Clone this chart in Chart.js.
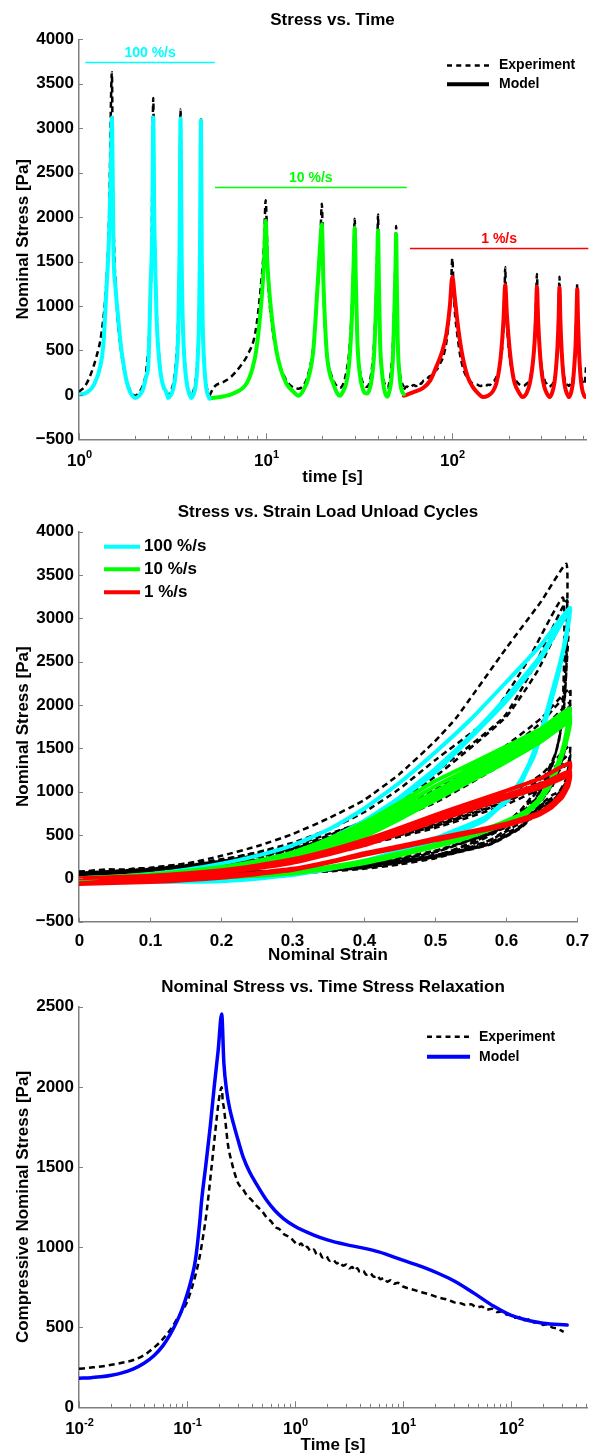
<!DOCTYPE html>
<html>
<head>
<meta charset="utf-8">
<script src="https://cdn.jsdelivr.net/npm/chart.js@4.4.1/dist/chart.umd.min.js"></script>
<style>
  html, body { margin: 0; padding: 0; background: #fff; }
  body { width: 589px; height: 1454px; position: relative; overflow: hidden; }
  canvas { position: absolute; left: 0; }
</style>
</head>
<body>
<canvas id="timeChart" width="589" height="500" style="top:0px"></canvas>
<canvas id="loopChart" width="589" height="475" style="top:500px"></canvas>
<canvas id="relaxChart" width="589" height="479" style="top:975px"></canvas>
<script>
/* ---------- cyclic test, stress against time  [t (s), stress (Pa)] ---------- */
var fastModelTime = [
  [1.0,0],[1.1,25],[1.2,110],[1.3,320],[1.35,560],[1.4,1150],[1.45,1800],[1.48,2500],[1.5,3120],
  [1.52,2200],[1.53,1650],[1.57,1200],[1.62,880],[1.67,580],[1.73,350],[1.8,150],[1.87,40],[1.93,-10],[2.0,-34],
  [2.1,-10],[2.2,60],[2.3,220],[2.35,330],[2.42,1250],[2.47,1900],[2.5,3120],
  [2.53,2000],[2.55,1630],[2.6,900],[2.71,315],[2.8,130],[2.95,20],[3.0,-34],
  [3.1,-5],[3.2,70],[3.3,250],[3.4,700],[3.45,1500],[3.5,3110],[3.55,1500],[3.6,800],[3.7,300],[3.8,100],[3.9,10],[4.0,-34],
  [4.1,0],[4.2,80],[4.3,300],[4.4,900],[4.45,1700],[4.5,3090],[4.55,1500],[4.6,800],[4.7,300],[4.8,80],[4.9,0],[5.0,-40]
];
var mediumModelTime = [
  [5,-40],[6,-15],[6.7,16],[7.9,128],[8.5,300],[8.9,500],[9.5,1066],[9.8,1500],[10,1960],
  [10.2,1500],[10.56,1066],[11.4,503],[12,300],[12.9,128],[14,40],[15,-10],
  [16,60],[17,200],[18,500],[19,1250],[19.6,1700],[20,1920],[20.4,1250],[21.2,500],[22,250],[23,128],[24,30],[25,-10],
  [26,40],[27,130],[28,350],[29,900],[29.6,1500],[30,1880],[30.4,1300],[31,600],[32,220],[33,80],[34,20],[35,15],
  [36,60],[37,180],[38,420],[39,1000],[39.6,1500],[40,1850],[40.4,1300],[41,600],[42,250],[43,80],[44,0],[45,-20],
  [46,40],[47,150],[48,400],[49,1000],[49.6,1450],[50,1810],[50.4,1300],[51,600],[52,250],[53,90],[54,30],[55,8]
];
var slowModelTime = [
  [55,-10],[62,30],[70,80],[76,160],[82,315],[88,480],[93,690],[97,1000],[100,1330],
  [103,1100],[105.7,880],[110,600],[114.5,390],[121,200],[128.6,90],[137,20],[146,-25],
  [155,-10],[165,40],[172,128],[178,280],[183,500],[188,850],[192,1235],[196,900],[203,500],[210,250],[216,128],[227,30],[238,-25],
  [250,20],[260,130],[268,300],[275,550],[280,850],[284,1216],[288,850],[294,500],[302,230],[312,80],[322,10],[332,-25],
  [342,20],[352,130],[360,320],[366,550],[371,850],[375,1209],[379,850],[385,500],[393,230],[402,80],[412,10],[422,-25],
  [432,20],[442,130],[450,320],[457,550],[462,850],[467,1187],[471,850],[477,500],[485,230],[494,80],[504,10],[514,-25],[520,-10]
];
var fastExptTime = [
  [1.0,30],[1.1,130],[1.24,430],[1.32,700],[1.4,1250],[1.45,2000],[1.5,3630],
  [1.52,2300],[1.54,1700],[1.6,950],[1.7,420],[1.8,160],[1.9,30],[2.0,-10],
  [2.1,30],[2.2,110],[2.3,300],[2.4,900],[2.45,1700],[2.5,3340],[2.53,2100],[2.56,1500],[2.62,800],[2.7,380],[2.8,130],[2.9,30],[3.0,0],
  [3.1,40],[3.2,130],[3.3,350],[3.4,850],[3.45,1600],[3.5,3210],[3.55,1500],[3.6,800],[3.7,330],[3.8,120],[3.9,30],[4.0,-10],
  [4.1,40],[4.2,140],[4.3,380],[4.4,950],[4.45,1800],[4.5,3100],[4.55,1500],[4.6,800],[4.7,330],[4.8,120],[4.9,40],[5.0,0]
];
var mediumExptTime = [
  [5,-10],[5.3,90],[6,150],[6.5,200],[7.3,320],[8,450],[8.8,700],[9.4,1200],[9.8,1700],[10,2190],
  [10.3,1300],[10.8,800],[11.5,450],[12.5,220],[13.5,110],[15,70],
  [16,110],[17,250],[18,550],[19,1200],[19.6,1700],[20,2150],[20.4,1200],[21.2,500],[22.5,220],[24,100],[25,80],
  [26,120],[27,250],[28,480],[29,1000],[29.6,1550],[30,1980],[30.4,1200],[31.2,500],[32.5,200],[34,100],[35,90],
  [36,140],[37,280],[38,550],[39,1100],[39.6,1600],[40,2030],[40.4,1200],[41.2,500],[42.5,200],[44,100],[45,80],
  [46,140],[47,280],[48,550],[49,1100],[49.6,1550],[50,1900],[50.4,1200],[51.2,500],[52.5,220],[54,120],[55,90]
];
var slowExptTime = [
  [55,60],[57,95],[59,80],[62,110],[64,100],[66,135],[68,125],[70,160],[73,175],[75,205],[78,225],[80,265],[83,290],[85,335],
  [89,420],[93,600],[96,850],[98,1100],[100,1536],
  [101.5,1200],[103,950],[106,700],[110,450],[115,280],[121,180],[125,150],[128,130],[132,120],[136,115],[141,100],[146,105],
  [150,95],[155,115],[159,110],[163,145],[168,160],[172,200],[180,350],[186,600],[190,1000],[192,1435],
  [194,1000],[199,600],[206,330],[214,200],[219,160],[224,135],[231,110],[238,100],
  [244,105],[250,125],[255,140],[260,180],[268,330],[275,600],[280,950],[284,1359],
  [287,950],[293,560],[300,320],[305,230],[310,185],[315,140],[320,125],[326,100],[332,90],
  [337,105],[342,110],[347,140],[352,170],[360,320],[366,580],[371,950],[375,1329],
  [378,950],[384,560],[391,320],[395,230],[400,175],[405,140],[410,120],[416,110],[422,100],
  [427,115],[432,120],[437,150],[442,180],[450,320],[457,580],[462,950],[467,1247],
  [470,950],[476,560],[483,320],[488,220],[492,175],[497,140],[502,115],[506,120],[510,135],[516,200],[520,310]
];
// strain-rate bands over the three blocks
var rateLabels = ['100 %/s', '10 %/s', '1 %/s'];
var rateFrom = [1.08, 5.35, 59.3];
var rateTo = [5.35, 57, 535];
var rateLevel = [3750, 2340, 1650];

/* ---------- load / unload loops  [strain, stress (Pa)] ---------- */
var fastModelLoop = [
  [0,0],[0.05,20],[0.1,50],[0.15,100],[0.2,170],[0.25,260],[0.3,380],[0.35,560],[0.4,800],[0.45,1100],[0.5,1450],[0.55,1830],[0.6,2260],[0.65,2700],[0.69,3120],
  [0.685,2800],[0.675,2450],[0.665,2150],[0.655,1850],[0.64,1450],[0.62,1120],[0.6,900],[0.57,700],[0.53,560],[0.5,460],[0.45,320],[0.4,200],[0.35,110],[0.3,50],[0.25,0],[0.2,-25],[0.1,-40],[0,-34],
  [0.05,-20],[0.1,0],[0.15,40],[0.2,100],[0.25,180],[0.3,290],[0.35,450],[0.4,660],[0.45,930],[0.5,1260],[0.55,1640],[0.6,2080],[0.65,2580],[0.69,3120],
  [0.685,2780],[0.675,2430],[0.665,2120],[0.655,1820],[0.64,1420],[0.62,1100],[0.6,880],[0.57,690],[0.53,550],[0.5,450],[0.45,310],[0.4,195],[0.35,105],[0.3,45],[0.25,-5],[0.2,-30],[0.1,-40],[0,-34],
  [0.1,-5],[0.2,90],[0.3,275],[0.4,640],[0.5,1230],[0.6,2050],[0.65,2560],[0.69,3110],
  [0.675,2420],[0.655,1810],[0.62,1090],[0.57,680],[0.5,440],[0.4,190],[0.3,40],[0.2,-30],[0.1,-40],[0,-34],
  [0.1,-5],[0.2,85],[0.3,270],[0.4,630],[0.5,1220],[0.6,2040],[0.65,2550],[0.69,3090],
  [0.675,2400],[0.655,1800],[0.62,1080],[0.57,670],[0.5,430],[0.4,185],[0.3,38],[0.2,-32],[0.1,-40],[0,-40]
];
var mediumModelLoop = [
  [0,0],[0.1,45],[0.2,130],[0.25,200],[0.3,300],[0.35,450],[0.4,640],[0.45,870],[0.5,1120],[0.55,1320],[0.6,1520],[0.65,1730],[0.69,1960],
  [0.685,1680],[0.678,1440],[0.67,1270],[0.66,1090],[0.645,900],[0.625,760],[0.6,660],[0.578,590],[0.55,510],[0.5,390],[0.45,290],[0.4,200],[0.35,130],[0.3,80],[0.2,25],[0.1,-5],[0,-20],
  [0.1,25],[0.2,110],[0.25,180],[0.3,280],[0.35,420],[0.4,600],[0.45,820],[0.5,1060],[0.55,1270],[0.6,1480],[0.65,1700],[0.69,1920],
  [0.685,1650],[0.678,1420],[0.67,1250],[0.66,1070],[0.645,890],[0.625,750],[0.6,650],[0.578,580],[0.55,500],[0.5,380],[0.45,280],[0.4,190],[0.35,120],[0.3,70],[0.2,20],[0.1,-10],[0,-20],
  [0.1,15],[0.2,95],[0.3,260],[0.35,390],[0.4,560],[0.45,770],[0.5,1000],[0.55,1220],[0.6,1430],[0.65,1660],[0.69,1880],
  [0.685,1620],[0.67,1230],[0.66,1060],[0.645,880],[0.625,740],[0.6,640],[0.55,490],[0.5,375],[0.4,185],[0.3,65],[0.2,15],[0.1,-12],[0,-22],
  [0.1,10],[0.2,85],[0.3,240],[0.35,360],[0.4,520],[0.45,720],[0.5,950],[0.55,1170],[0.6,1390],[0.65,1620],[0.69,1850],
  [0.685,1600],[0.67,1220],[0.66,1050],[0.645,870],[0.625,735],[0.6,635],[0.55,485],[0.5,370],[0.4,180],[0.3,60],[0.2,12],[0.1,-15],[0,-25],
  [0.1,5],[0.2,75],[0.3,220],[0.35,330],[0.4,480],[0.45,680],[0.5,900],[0.55,1120],[0.6,1340],[0.65,1580],[0.69,1810],
  [0.685,1580],[0.67,1210],[0.66,1040],[0.645,865],[0.625,730],[0.6,630],[0.55,480],[0.5,365],[0.4,175],[0.3,55],[0.2,10],[0.1,-18],[0,-28]
];
var slowModelLoop = [
  [0,0],[0.1,30],[0.2,95],[0.25,150],[0.3,220],[0.35,320],[0.4,440],[0.45,580],[0.5,730],[0.55,870],[0.6,1010],[0.65,1160],[0.69,1330],
  [0.688,1150],[0.68,1000],[0.665,860],[0.645,750],[0.62,680],[0.6,630],[0.55,540],[0.5,460],[0.45,370],[0.4,290],[0.35,190],[0.3,110],[0.2,20],[0.1,-30],[0,-55],
  [0.1,0],[0.2,70],[0.3,195],[0.35,290],[0.4,405],[0.45,540],[0.5,690],[0.55,825],[0.6,960],[0.65,1090],[0.69,1235],
  [0.688,1100],[0.68,970],[0.665,840],[0.645,740],[0.62,670],[0.6,620],[0.55,530],[0.5,450],[0.45,360],[0.4,280],[0.35,185],[0.3,105],[0.2,15],[0.1,-35],[0,-60],
  [0.1,-5],[0.2,65],[0.3,190],[0.4,395],[0.5,675],[0.55,810],[0.6,945],[0.65,1075],[0.69,1216],
  [0.688,1090],[0.68,960],[0.665,835],[0.645,735],[0.6,615],[0.5,445],[0.4,275],[0.3,100],[0.2,12],[0.1,-38],[0,-62],
  [0.1,-8],[0.2,62],[0.3,185],[0.4,390],[0.5,668],[0.6,938],[0.65,1068],[0.69,1209],
  [0.688,1085],[0.68,955],[0.665,830],[0.645,732],[0.6,612],[0.5,442],[0.4,272],[0.3,98],[0.2,10],[0.1,-40],[0,-63],
  [0.1,-10],[0.2,58],[0.3,180],[0.4,380],[0.5,655],[0.6,925],[0.65,1050],[0.69,1187],
  [0.688,1070],[0.68,945],[0.665,822],[0.645,728],[0.6,608],[0.5,438],[0.4,268],[0.3,95],[0.2,8],[0.1,-42],[0,-65]
];
var fastExptLoop = [
  [0,60],[0.03,95],[0.05,80],[0.08,115],[0.1,120],[0.15,170],[0.2,260],[0.25,370],[0.3,510],[0.35,690],[0.4,900],[0.45,1200],[0.5,1580],[0.53,1850],[0.6,2650],[0.65,3200],[0.685,3630],
  [0.686,3000],[0.685,2400],[0.682,2000],[0.676,1650],[0.665,1300],[0.645,950],[0.62,680],[0.58,450],[0.54,320],[0.5,230],[0.45,160],[0.4,110],[0.35,80],[0.3,60],[0.2,40],[0.1,40],[0,40],
  [0.05,60],[0.1,90],[0.15,140],[0.2,210],[0.25,300],[0.3,410],[0.35,560],[0.4,760],[0.45,1030],[0.5,1360],[0.578,1860],[0.63,2500],[0.68,3240],
  [0.682,2600],[0.68,2000],[0.675,1600],[0.662,1250],[0.64,900],[0.6,600],[0.55,380],[0.5,250],[0.4,120],[0.3,70],[0.2,50],[0.1,45],[0,40],
  [0.1,80],[0.2,190],[0.3,350],[0.4,660],[0.5,1220],[0.597,1860],[0.64,2450],[0.686,3210],
  [0.684,2500],[0.68,1900],[0.672,1500],[0.655,1150],[0.63,850],[0.6,620],[0.55,400],[0.5,260],[0.4,130],[0.3,70],[0.2,50],[0.1,45],[0,40],
  [0.1,75],[0.2,180],[0.3,330],[0.4,630],[0.5,1170],[0.6,1860],[0.645,2400],[0.688,3100],
  [0.685,2400],[0.68,1850],[0.67,1450],[0.65,1100],[0.62,780],[0.58,520],[0.5,250],[0.4,120],[0.3,70],[0.2,50],[0.1,40],[0,40]
];
var mediumExptLoop = [
  [0,70],[0.04,105],[0.07,90],[0.1,120],[0.2,220],[0.3,380],[0.4,650],[0.45,820],[0.5,1020],[0.55,1250],[0.6,1530],[0.65,1850],[0.69,2190],
  [0.688,1800],[0.682,1450],[0.67,1150],[0.65,900],[0.62,700],[0.58,520],[0.5,320],[0.4,160],[0.3,90],[0.2,60],[0.1,50],[0,60],
  [0.1,110],[0.2,200],[0.3,350],[0.4,600],[0.5,960],[0.6,1470],[0.65,1800],[0.69,2150],
  [0.687,1750],[0.68,1400],[0.665,1100],[0.64,850],[0.6,620],[0.55,450],[0.5,310],[0.4,150],[0.3,85],[0.2,55],[0.1,50],[0,60],
  [0.1,100],[0.2,190],[0.3,330],[0.4,570],[0.5,900],[0.6,1380],[0.65,1680],[0.69,1980],
  [0.686,1650],[0.678,1350],[0.665,1080],[0.64,830],[0.6,600],[0.5,300],[0.4,150],[0.3,80],[0.2,55],[0.1,50],[0,55],
  [0.1,100],[0.2,190],[0.3,340],[0.4,580],[0.5,920],[0.6,1400],[0.65,1710],[0.69,2030],
  [0.686,1680],[0.678,1370],[0.665,1090],[0.64,840],[0.6,610],[0.5,305],[0.4,150],[0.3,80],[0.2,55],[0.1,50],[0,55],
  [0.1,95],[0.2,180],[0.3,320],[0.4,550],[0.5,870],[0.6,1340],[0.65,1620],[0.69,1900],
  [0.686,1600],[0.678,1320],[0.665,1060],[0.64,820],[0.6,590],[0.5,300],[0.4,145],[0.3,80],[0.2,55],[0.1,50],[0,55]
];
var slowExptLoop = [
  [0,80],[0.05,100],[0.1,110],[0.2,170],[0.3,280],[0.4,440],[0.5,660],[0.6,960],[0.65,1200],[0.69,1536],
  [0.688,1300],[0.685,1150],[0.675,1000],[0.665,960],[0.653,880],[0.64,790],[0.63,700],[0.62,640],[0.6,540],[0.578,440],[0.56,390],[0.54,330],[0.5,270],[0.45,200],[0.4,155],[0.367,130],[0.3,95],[0.2,70],[0.1,55],[0,60],
  [0.1,105],[0.2,160],[0.3,265],[0.4,420],[0.5,630],[0.6,920],[0.65,1150],[0.69,1435],
  [0.688,1250],[0.684,1100],[0.672,960],[0.66,905],[0.65,850],[0.635,730],[0.62,600],[0.6,520],[0.578,410],[0.55,350],[0.5,255],[0.4,145],[0.3,92],[0.2,68],[0.1,55],[0,60],
  [0.1,100],[0.2,155],[0.3,255],[0.4,405],[0.5,610],[0.6,890],[0.65,1110],[0.69,1359],
  [0.688,1200],[0.683,1060],[0.67,930],[0.65,830],[0.62,590],[0.578,400],[0.5,250],[0.4,140],[0.3,90],[0.2,66],[0.1,55],[0,60],
  [0.1,100],[0.2,150],[0.3,250],[0.4,400],[0.5,600],[0.6,880],[0.65,1090],[0.69,1329],
  [0.688,1180],[0.683,1040],[0.67,920],[0.65,820],[0.62,585],[0.578,395],[0.5,248],[0.4,140],[0.3,88],[0.2,65],[0.1,55],[0,60],
  [0.1,95],[0.2,145],[0.3,240],[0.4,385],[0.5,580],[0.6,850],[0.65,1040],[0.69,1247],
  [0.688,1120],[0.683,1000],[0.67,900],[0.65,800],[0.62,575],[0.578,390],[0.5,245],[0.4,138],[0.3,86],[0.2,64],[0.1,55],[0,60]
];

/* ---------- stress relaxation  [t (s), stress (Pa)] ---------- */
var relaxExpt = [
  [0.01,240],[0.013,248],[0.016,255],[0.02,265],[0.025,278],[0.032,295],[0.04,325],[0.045,350],[0.05,375],[0.057,410],
  [0.065,455],[0.073,500],[0.08,545],[0.09,600],[0.1,655],[0.11,735],[0.12,825],[0.13,925],[0.14,1050],[0.153,1230],
  [0.165,1430],[0.178,1640],[0.19,1820],[0.2,1940],[0.21,1997],[0.215,1910],[0.22,1870],[0.227,1790],[0.24,1640],
  [0.26,1530],[0.28,1450],[0.3,1395],[0.33,1362],[0.36,1322],[0.4,1292],[0.45,1252],[0.5,1222],[0.55,1183],[0.6,1162],
  [0.66,1124],[0.72,1112],[0.8,1078],[0.9,1062],[1.0,1030],[1.08,1012],[1.15,1022],[1.22,994],[1.3,1002],[1.4,974],
  [1.5,984],[1.6,954],[1.7,963],[1.8,935],[1.95,944],[2.1,914],[2.27,920],[2.45,898],[2.6,906],[2.8,884],[3.0,891],
  [3.2,867],[3.4,876],[3.6,854],[3.8,868],[4.0,844],[4.3,851],[4.6,827],[5.0,837],[5.4,814],[5.8,823],[6.2,799],
  [6.7,807],[7.2,784],[7.7,793],[8.3,771],[9.0,777],[10,754],[12,738],[15,718],[18,703],[22,683],[26,672],[30,655],
  [34,650],[38,639],[43,643],[48,624],[54,629],[60,609],[67,615],[75,594],[83,599],[92,579],[100,575],[110,559],
  [120,563],[135,544],[150,549],[165,529],[180,533],[200,514],[220,519],[245,497],[270,492],[290,481],[310,471]
];
var relaxModel = [
  [0.01,181],[0.013,185],[0.016,190],[0.02,200],[0.025,215],[0.032,240],[0.04,275],[0.05,325],[0.06,385],[0.07,455],
  [0.08,530],[0.09,610],[0.1,700],[0.11,800],[0.12,920],[0.132,1168],[0.137,1293],[0.149,1500],[0.165,1760],[0.179,2000],
  [0.195,2230],[0.21,2455],[0.22,2150],[0.234,1970],[0.25,1860],[0.27,1770],[0.3,1660],[0.333,1560],[0.38,1470],
  [0.44,1394],[0.55,1290],[0.65,1230],[0.785,1178],[1,1130],[1.5,1075],[2,1045],[3,1015],[4,998],[6,970],[10,918],
  [15,878],[22,832],[30,788],[46,711],[70,630],[100,575],[150,540],[200,525],[334,513]
];

/* --------------- shared styling --------------- */
var FONT = "'Liberation Sans', Arial, Helvetica, sans-serif";
var AXIS_GREY = '#7f7f7f';
var CYAN = '#00ffff', GREEN = '#00ff00', RED = '#ff0000', BLUE = '#0000ff';
var EXPT_DASH = [6, 4];

Chart.defaults.font.family = FONT;
Chart.defaults.color = '#000';

function pts(arr) {
  return arr.map(function (p) { return { x: p[0], y: p[1] }; });
}

function series(label, data, color, width, dash, order, mode) {
  return {
    label: label,
    data: pts(data),
    showLine: true,
    borderColor: color,
    backgroundColor: color,
    borderWidth: width,
    borderDash: dash || [],
    borderCapStyle: dash ? 'butt' : 'round',
    borderJoinStyle: 'round',
    pointRadius: 0,
    pointHoverRadius: 0,
    cubicInterpolationMode: mode === 'monotone' ? 'monotone' : 'default',
    tension: mode === 'monotone' ? 0 : (mode || 0),
    order: order
  };
}

function yAxis(min, max, title) {
  return {
    type: 'linear', min: min, max: max,
    ticks: {
      stepSize: 500, padding: 5, color: '#000',
      font: { size: 17, weight: 'bold' },
      callback: function (v) { return v < 0 ? '\u2212' + Math.abs(v) : String(v); }
    },
    grid: { display: false, drawTicks: false },
    border: { color: AXIS_GREY, width: 1.5 },
    title: {
      display: true, text: title, color: '#000',
      font: { size: 17, weight: 'bold', lineHeight: 1 },
      padding: { top: 14.5, bottom: 0 }
    },
    afterFit: function (s) { s.width = 79; }
  };
}

function xAxis(type, min, max, title, height, titlePad, step) {
  var ax = {
    type: type, min: min, max: max,
    ticks: { display: false },
    grid: { display: false, drawTicks: false },
    border: { color: AXIS_GREY, width: 1.5 },
    title: {
      display: true, text: title, color: '#000',
      font: { size: 17, weight: 'bold', lineHeight: 1 },
      padding: { top: 0, bottom: titlePad }
    },
    afterFit: function (s) { s.height = height; s.paddingLeft = 0; s.paddingRight = 0; }
  };
  if (step) ax.ticks.stepSize = step;
  return ax;
}

/* title, inward ticks, x labels, legend and rate bands drawn on top of each chart */
function decor(cfg) {
  return {
    id: 'decor',
    afterDraw: function (chart) {
      var ctx = chart.ctx, a = chart.chartArea, xs = chart.scales.x, ys = chart.scales.y;
      ctx.save();

      ctx.fillStyle = '#000';
      ctx.font = 'bold 17px ' + FONT;
      ctx.textAlign = 'center';
      ctx.textBaseline = 'middle';
      ctx.fillText(cfg.title, (a.left + a.right) / 2, cfg.titleY);

      // tick marks point into the plot
      ctx.strokeStyle = AXIS_GREY;
      ctx.lineWidth = 1;
      ctx.beginPath();
      ys.ticks.forEach(function (t) {
        var py = Math.round(ys.getPixelForValue(t.value)) + 0.5;
        ctx.moveTo(a.left, py); ctx.lineTo(a.left + 4, py);
      });
      var majors = [];
      if (xs.type === 'logarithmic') {
        var e0 = Math.floor(Math.log10(xs.min)), e1 = Math.ceil(Math.log10(xs.max));
        for (var e = e0; e <= e1; e++) {
          for (var k = 1; k < 10; k++) {
            var v = k * Math.pow(10, e);
            if (v < xs.min * 0.999 || v > xs.max) continue;
            var px = Math.round(xs.getPixelForValue(v)) + 0.5;
            ctx.moveTo(px, a.bottom); ctx.lineTo(px, a.bottom - (k === 1 ? 6 : 3.5));
            if (k === 1) majors.push([px, e]);
          }
        }
      } else {
        xs.ticks.forEach(function (t) {
          var px = Math.round(xs.getPixelForValue(t.value)) + 0.5;
          ctx.moveTo(px, a.bottom); ctx.lineTo(px, a.bottom - 4);
          majors.push([px, t.value]);
        });
      }
      ctx.stroke();

      // x tick labels
      ctx.fillStyle = '#000';
      ctx.textBaseline = 'alphabetic';
      majors.forEach(function (m) {
        if (xs.type === 'logarithmic') {
          var ex = m[1] < 0 ? '-' + (-m[1]) : String(m[1]);
          ctx.font = 'bold 17px ' + FONT;
          var wb = ctx.measureText('10').width;
          ctx.font = 'bold 11px ' + FONT;
          var we = ctx.measureText(ex).width;
          var left = m[0] - (wb + we) / 2;
          ctx.textAlign = 'left';
          ctx.font = 'bold 17px ' + FONT;
          ctx.fillText('10', left, a.bottom + 26.5);
          ctx.font = 'bold 11px ' + FONT;
          ctx.fillText(ex, left + wb, a.bottom + 18.5);
        } else {
          ctx.textAlign = 'center';
          ctx.font = 'bold 17px ' + FONT;
          var txt = m[1] === 0 ? '0' : m[1].toFixed(1);
          ctx.fillText(txt, m[0], a.bottom + 24);
        }
      });

      // strain-rate bands
      (cfg.bands || []).forEach(function (b) {
        var x0 = xs.getPixelForValue(b.from), x1 = xs.getPixelForValue(b.to);
        var py = Math.round(ys.getPixelForValue(b.level)) + 0.5;
        ctx.strokeStyle = b.color;
        ctx.lineWidth = 1.5;
        ctx.beginPath(); ctx.moveTo(x0, py); ctx.lineTo(x1, py); ctx.stroke();
        ctx.fillStyle = b.color;
        ctx.font = 'bold 14px ' + FONT;
        ctx.textAlign = 'center';
        ctx.textBaseline = 'middle';
        ctx.fillText(b.label, (x0 + x1) / 2, py - 9);
      });

      // legend
      var lg = cfg.legend;
      lg.items.forEach(function (it) {
        ctx.strokeStyle = it.color;
        ctx.lineWidth = it.width;
        ctx.lineCap = 'butt';
        ctx.setLineDash(it.dash || []);
        ctx.beginPath(); ctx.moveTo(lg.x0, it.y); ctx.lineTo(lg.x1, it.y); ctx.stroke();
        ctx.setLineDash([]);
        ctx.fillStyle = '#000';
        ctx.font = lg.font + ' ' + FONT;
        ctx.textAlign = 'left';
        ctx.textBaseline = 'middle';
        ctx.fillText(it.label, lg.textX, it.y);
      });

      ctx.restore();
    }
  };
}

function baseOptions(padding, xScale, yScale) {
  return {
    responsive: false,
    animation: false,
    events: [],
    layout: { padding: padding },
    plugins: { legend: { display: false }, tooltip: { enabled: false }, title: { display: false } },
    scales: { x: xScale, y: yScale }
  };
}

/* --------------- stress vs time --------------- */
var bands = rateLabels.map(function (l, i) {
  return { label: l, color: [CYAN, GREEN, RED][i], from: rateFrom[i], to: rateTo[i], level: rateLevel[i] };
});
new Chart(document.getElementById('timeChart'), {
  type: 'scatter',
  data: {
    datasets: [
      series('Experiment', fastExptTime, '#000', 2.5, EXPT_DASH, 2, 'monotone'),
      series('Experiment', mediumExptTime, '#000', 2.5, EXPT_DASH, 2, 'monotone'),
      series('Experiment', slowExptTime, '#000', 2.5, EXPT_DASH, 2, 'monotone'),
      series('100 %/s', fastModelTime, CYAN, 4, null, 1, 'monotone'),
      series('10 %/s', mediumModelTime, GREEN, 4, null, 1, 'monotone'),
      series('1 %/s', slowModelTime, RED, 4, null, 1, 'monotone')
    ]
  },
  options: baseOptions({ top: 39.3, right: 3, bottom: 0, left: 0 },
    xAxis('logarithmic', 1, 520, 'time [s]', 60.7, 14.5),
    yAxis(-500, 4000, 'Nominal Stress [Pa]')),
  plugins: [decor({
    title: 'Stress vs. Time', titleY: 20.5,
    bands: bands,
    legend: {
      x0: 447, x1: 489, textX: 499, font: 'bold 14px',
      items: [
        { label: 'Experiment', y: 65.5, color: '#000', width: 2.5, dash: [5, 4.25] },
        { label: 'Model', y: 84.3, color: '#000', width: 4 }
      ]
    }
  })]
});

/* --------------- stress vs strain loops --------------- */
new Chart(document.getElementById('loopChart'), {
  type: 'scatter',
  data: {
    datasets: [
      series('Experiment 100 %/s', fastExptLoop, '#000', 2.5, EXPT_DASH, 6, 0.15),
      series('Experiment 10 %/s', mediumExptLoop, '#000', 2.5, EXPT_DASH, 5, 0.15),
      series('Experiment 1 %/s', slowExptLoop, '#000', 2.5, EXPT_DASH, 4, 0.15),
      series('100 %/s', fastModelLoop, CYAN, 4, null, 3, 0.15),
      series('10 %/s', mediumModelLoop, GREEN, 4, null, 2, 0.15),
      series('1 %/s', slowModelLoop, RED, 4, null, 1, 0.15)
    ]
  },
  options: baseOptions({ top: 31.7, right: 12, bottom: 0, left: 0 },
    xAxis('linear', 0, 0.7, 'Nominal Strain', 53.3, 11.5, 0.1),
    yAxis(-500, 4000, 'Nominal Stress [Pa]')),
  plugins: [decor({
    title: 'Stress vs. Strain Load Unload Cycles', titleY: 12.5,
    legend: {
      x0: 104, x1: 140, textX: 144, font: 'bold 17px',
      items: [
        { label: '100 %/s', y: 46.7, color: CYAN, width: 4 },
        { label: '10 %/s', y: 69.3, color: GREEN, width: 4 },
        { label: '1 %/s', y: 92.3, color: RED, width: 4 }
      ]
    }
  })]
});

/* --------------- stress relaxation --------------- */
new Chart(document.getElementById('relaxChart'), {
  type: 'scatter',
  data: {
    datasets: [
      series('Experiment', relaxExpt, '#000', 2.5, EXPT_DASH, 2, 'monotone'),
      series('Model', relaxModel, BLUE, 3.5, null, 1, 'monotone')
    ]
  },
  options: baseOptions({ top: 31.7, right: 2, bottom: 0, left: 0 },
    xAxis('logarithmic', 0.01, 510, 'Time [s]', 46.7, 0.5),
    yAxis(0, 2500, 'Compressive Nominal Stress [Pa]')),
  plugins: [decor({
    title: 'Nominal Stress vs. Time Stress Relaxation', titleY: 12.8,
    legend: {
      x0: 427, x1: 470, textX: 479, font: 'bold 14px',
      items: [
        { label: 'Experiment', y: 61.7, color: '#000', width: 2.5, dash: [5, 4.25] },
        { label: 'Model', y: 81.7, color: BLUE, width: 4 }
      ]
    }
  })]
});
</script>
</body>
</html>
